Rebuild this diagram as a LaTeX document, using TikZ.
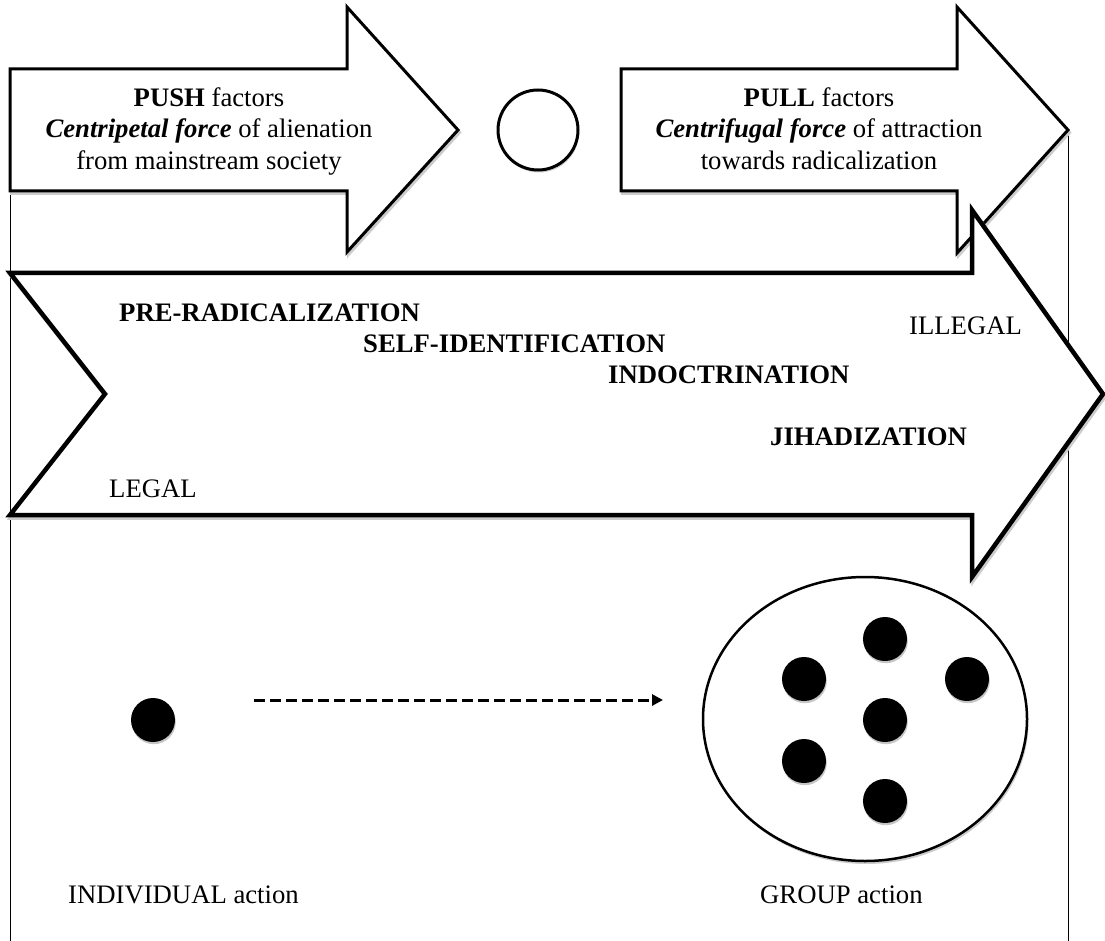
\documentclass[tikz,border=0pt]{standalone}
\usepackage{fontspec}
\setmainfont{Liberation Serif}
\usetikzlibrary{arrows.meta,shadows}
\begin{document}
\begin{tikzpicture}[x=1pt,y=-1pt,
  lbl/.style={inner sep=0pt, font=\fontsize{26.7}{32}\selectfont},
  arrowshape/.style={draw=black, fill=white, line join=miter},
  shade/.style={draw=gray!40, fill=gray!40, line join=miter, shift={(1.5,2.5)}},
  framel/.style={line width=1pt},
  blackdot/.style={circle, fill=black, minimum size=44pt, inner sep=0pt,
    drop shadow={shadow xshift=0.8pt, shadow yshift=-2.2pt, fill=gray!45, opacity=1}},
  ringnode/.style={circle, draw=black, fill=white, line width=3pt, minimum size=80pt, inner sep=0pt,
    drop shadow={shadow xshift=1pt, shadow yshift=-2.5pt, fill=gray!40, opacity=1}},
]
\useasboundingbox (0,0) rectangle (1105,941);

% frame lines
\coordinate (fl1) at (10,69);
\coordinate (fl2) at (10,941);
\coordinate (fr1) at (1068,130);
\coordinate (fr2) at (1068,941);
\draw[framel] (fl1) -- (fl2);
\draw[framel] (fr1) -- (fr2);

% PUSH arrow
\path[shade, line width=3pt] (10,69) -- (347,69) -- (347,7) -- (458,130) -- (347,252) -- (347,191) -- (10,191) -- cycle;
\path[arrowshape, line width=3pt] (10,69) -- (347,69) -- (347,7) -- (458,130) -- (347,252) -- (347,191) -- (10,191) -- cycle;

% PULL arrow
\path[shade, line width=3pt] (621,69) -- (957,69) -- (957,7) -- (1068,130) -- (957,253) -- (957,191) -- (621,191) -- cycle;
\path[arrowshape, line width=3pt] (621,69) -- (957,69) -- (957,7) -- (1068,130) -- (957,253) -- (957,191) -- (621,191) -- cycle;

% circle between
\node[ringnode] (ring) at (538,130) {};

% big arrow
\path[shade, line width=4.5pt] (10,273) -- (972,273) -- (972,210) -- (1103,394) -- (972,577) -- (972,515) -- (10,515) -- (105,394) -- cycle;
\path[arrowshape, line width=4.5pt] (10,273) -- (972,273) -- (972,210) -- (1103,394) -- (972,577) -- (972,515) -- (10,515) -- (105,394) -- cycle;

% push texts
\node[lbl, anchor=base] (push1) at (209,107) {\textbf{PUSH} factors};
\node[lbl, anchor=base] (push2) at (209,138) {\textbf{\textit{Centripetal force}} of alienation};
\node[lbl, anchor=base] (push3) at (209,170) {from mainstream society};

% pull texts
\node[lbl, anchor=base] (pull1) at (819,107) {\textbf{PULL} factors};
\node[lbl, anchor=base] (pull2) at (819,138) {\textbf{\textit{Centrifugal force}} of attraction};
\node[lbl, anchor=base] (pull3) at (819,170) {towards radicalization};

% stages
\node[lbl, anchor=base west] (pre) at (119,321) {\textbf{PRE-RADICALIZATION}};
\node[lbl, anchor=base west] (self) at (363,352) {\textbf{SELF-IDENTIFICATION}};
\node[lbl, anchor=base west] (indoc) at (608,383) {\textbf{INDOCTRINATION}};
\node[lbl, anchor=base west] (jihad) at (770,445) {\textbf{JIHADIZATION}};
\node[lbl, anchor=base west] (illegal) at (909,334) {ILLEGAL};
\node[lbl, anchor=base west] (legal) at (109,497) {LEGAL};

% bottom: individual
\node[blackdot] (ind) at (153,720) {};

% group ellipse
\fill[gray!40] (866.5,722) ellipse [x radius=162, y radius=142];
\draw[line width=2.5pt, fill=white] (865,719) ellipse [x radius=162, y radius=142];
\coordinate (grp) at (865,719);
\node[blackdot] (g1) at (885,639) {};
\node[blackdot] (g2) at (804,679) {};
\node[blackdot] (g3) at (967,679) {};
\node[blackdot] (g4) at (885,720) {};
\node[blackdot] (g5) at (804,761) {};
\node[blackdot] (g6) at (885,801) {};

% dashed arrow
\coordinate (ds) at (254,700);
\coordinate (de) at (663,700);
\draw[gray!40, line width=3pt, dash pattern=on 11pt off 5pt, shift={(1,3)}] (ds) -- ([xshift=-10pt]de);
\draw[line width=3pt, dash pattern=on 11pt off 5pt, -{Triangle[length=11pt,width=11pt]}] (ds) -- (de);

% labels
\node[lbl, anchor=base west] (indlbl) at (68,903) {INDIVIDUAL action};
\node[lbl, anchor=base west] (grplbl) at (760,903) {GROUP action};
\end{tikzpicture}
\end{document}
